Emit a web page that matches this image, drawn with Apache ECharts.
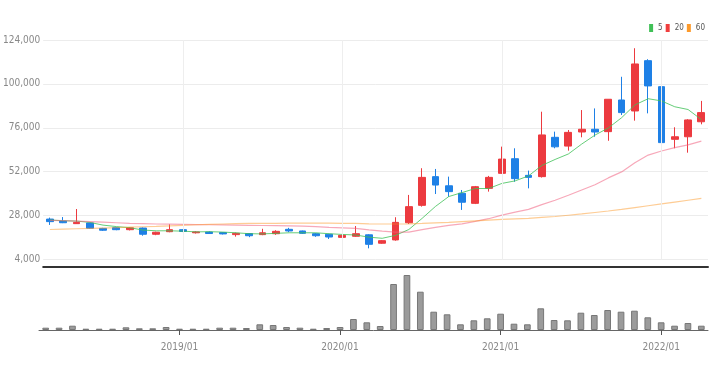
<!DOCTYPE html>
<html>
<head>
<meta charset="utf-8">
<script src="https://cdn.jsdelivr.net/npm/echarts@6/dist/echarts.min.js"></script>
<style>
html,body{margin:0;padding:0;background:#fff;}
#chart{width:724px;height:371px;}
</style>
</head>
<body>
<div id="chart"></div>
<script>
var categories = ['2018/03','2018/04','2018/05','2018/06','2018/07','2018/08','2018/09','2018/10','2018/11','2018/12',
  '2019/01','2019/02','2019/03','2019/04','2019/05','2019/06','2019/07','2019/08','2019/09','2019/10','2019/11','2019/12',
  '2020/01','2020/02','2020/03','2020/04','2020/05','2020/06','2020/07','2020/08','2020/09','2020/10','2020/11','2020/12',
  '2021/01','2021/02','2021/03','2021/04','2021/05','2021/06','2021/07','2021/08','2021/09','2021/10','2021/11','2021/12',
  '2022/01','2022/02','2022/03','2022/04'];

var openPrices = [26100,25000,23600,24000,21000,21400,20300,21200,17800,19200,
  20300,18600,19000,18700,17600,18200,17600,18100,20500,19600,18100,17800,
  16100,16700,17500,12900,14700,24100,33600,49300,44300,40200,34700,42900,
  51100,59100,50000,49300,70800,66000,73700,75200,73900,91200,85200,112700,
  98500,69700,71100,79300];
var closePrices = [24700,24100,24300,21100,20000,20300,21300,17800,18900,20300,
  19300,19100,18200,18000,18300,17000,18600,19400,19600,18300,17000,16300,
  17200,18100,12300,14300,24300,32900,48900,44700,41100,35300,43800,48900,
  58900,48200,48900,72100,65600,73500,75200,73700,91600,84300,110900,98900,
  67900,71100,80300,84300];
var lowPrices = [22900,23900,23500,20800,19600,20000,19900,17000,17300,18900,
  19000,18200,18000,17700,16500,16200,17300,17500,19000,18000,16400,15200,
  15500,16400,10100,12600,14300,23400,32900,39800,38300,31100,34300,41100,
  50800,46500,42900,48800,64800,63500,70800,71100,68900,83000,79900,83900,
  62900,64800,62400,77900];
var highPrices = [26900,27200,31600,24100,21300,21700,21700,21500,19200,23200,
  20600,19500,19400,19000,18700,18400,20800,20000,21300,19800,18500,18000,
  17900,22300,17800,14600,27100,39300,53900,53500,49300,42000,44200,49700,
  65700,64800,52600,84800,73900,74800,85700,86600,91600,103900,119500,113500,
  98900,76300,80700,90700];
var volumes = [23000,23000,43000,13000,13000,13000,27000,17000,17000,30000,
  13000,13000,13000,23000,23000,20000,57000,50000,30000,23000,13000,20000,
  30000,110000,77000,40000,460000,550000,383000,183000,157000,57000,97000,117000,
  163000,63000,57000,217000,100000,97000,173000,150000,200000,183000,193000,127000,
  77000,43000,70000,43000];
var ma5 = [25600,25200,25000,24300,22800,22000,21400,20100,19700,19700,
  19500,19100,19200,19000,18600,18100,18000,18300,18600,18600,18600,18100,
  17700,17400,16200,15600,17200,20400,26500,33000,38400,40600,42800,42800,
  45600,47000,49700,55400,58700,61700,67100,72000,75900,81500,88500,91900,
  90700,87500,86000,80500];
var ma20 = [25400,25200,25000,24700,24400,24100,23800,23600,23400,23300,
  23200,23100,23000,22900,22800,22700,22600,22500,22400,22300,22000,21600,
  21300,21000,20200,19500,19000,19000,20300,21600,22700,23500,24800,26300,
  28300,29900,31400,34000,36400,39100,42000,44900,48600,51900,56900,61100,
  63300,65200,66700,68700];
var ma60 = [20400,20600,20800,21000,21200,21400,21700,21900,22100,22400,
  22700,23000,23200,23400,23600,23700,23800,23800,23900,23900,23900,23900,
  23800,23700,23500,23400,23400,23500,23700,24000,24300,24700,25100,25500,
  25900,26200,26500,27000,27500,28200,28900,29700,30500,31400,32400,33400,
  34400,35400,36400,37400];
var priceTicks = {min: 4000, max: 124000, interval: 24000};
var maNames = ['5','20','60'];

var FONT = "'Liberation Sans Narrow','DejaVu Sans Condensed','Roboto',sans-serif";
var RED = '#ec3a3f', BLUE = '#1e80e6';

var candleData = categories.map(function(c, i){
  return [openPrices[i], closePrices[i], lowPrices[i], highPrices[i]];
});
var janCats = categories.filter(function(c){ return c.slice(5) === '01'; });
function isJan(index){ return categories[index].slice(5) === '01'; }

var chart = echarts.init(document.getElementById('chart'), null, {renderer: 'canvas'});
chart.setOption({
  animation: false,
  backgroundColor: '#fff',
  textStyle: {fontFamily: FONT},
  legend: {
    right: 14, top: 19,
    itemWidth: 4, itemHeight: 8, itemGap: 3,
    icon: 'rect',
    textStyle: {fontSize: 8, color: '#555', fontFamily: FONT},
    data: maNames
  },
  grid: [
    {left: 39, right: 16, top: 40, height: 219.5},
    {left: 39, right: 16, top: 270, height: 60}
  ],
  xAxis: [
    {
      type: 'category', gridIndex: 0, data: categories, boundaryGap: true,
      offset: 7,
      axisLine: {show: true, lineStyle: {color: '#333', width: 2}},
      axisTick: {show: false}, axisLabel: {show: false}, splitLine: {show: false}
    },
    {
      type: 'category', gridIndex: 1, data: categories, boundaryGap: true,
      axisLine: {show: true, lineStyle: {color: '#666', width: 1}},
      axisTick: {show: true, alignWithLabel: true, length: 5, interval: function(i){ return isJan(i); }, lineStyle: {color: '#555'}},
      axisLabel: {show: true, interval: function(i){ return isJan(i); }, fontSize: 10, color: '#888', margin: 12, fontFamily: FONT},
      splitLine: {show: false}
    }
  ],
  yAxis: [
    {
      type: 'value', gridIndex: 0, min: priceTicks.min, max: priceTicks.max, interval: priceTicks.interval,
      axisLine: {show: false}, axisTick: {show: false},
      axisLabel: {fontSize: 10, color: '#888', margin: 3, fontFamily: FONT,
        formatter: function(v){ return v.toLocaleString('en-US'); }},
      splitLine: {lineStyle: {color: '#ececec', width: 1}}
    },
    {
      type: 'value', gridIndex: 1, min: 0, max: 600000,
      show: false, splitLine: {show: false}
    }
  ],
  series: [
    {
      name: 'candle', type: 'candlestick', xAxisIndex: 0, yAxisIndex: 0,
      data: candleData, barWidth: '55%',
      itemStyle: {color: RED, color0: BLUE, borderColor: RED, borderColor0: BLUE, borderWidth: 1},
      markLine: {
        silent: true, symbol: 'none', label: {show: false},
        lineStyle: {color: '#eeeeee', width: 1, type: 'solid'},
        data: janCats.map(function(c){ return {xAxis: c}; })
      }
    },
    {
      name: '5', type: 'line', xAxisIndex: 0, yAxisIndex: 0, data: ma5,
      showSymbol: false, symbol: 'none', smooth: false,
      itemStyle: {color: '#40c057'},
      lineStyle: {color: '#40c057', width: 1, opacity: 0.8}
    },
    {
      name: '20', type: 'line', xAxisIndex: 0, yAxisIndex: 0, data: ma20,
      showSymbol: false, symbol: 'none',
      itemStyle: {color: '#f03e3e'},
      lineStyle: {color: '#f06080', width: 1.2, opacity: 0.55}
    },
    {
      name: '60', type: 'line', xAxisIndex: 0, yAxisIndex: 0, data: ma60,
      showSymbol: false, symbol: 'none',
      itemStyle: {color: '#fd9a2a'},
      lineStyle: {color: '#fd9a2a', width: 1.2, opacity: 0.5}
    },
    {
      name: 'volume', type: 'bar', xAxisIndex: 1, yAxisIndex: 1, data: volumes,
      barWidth: '50%',
      itemStyle: {color: '#9b9b9b', borderColor: '#777', borderWidth: 1}
    }
  ]
});
</script>
</body>
</html>
